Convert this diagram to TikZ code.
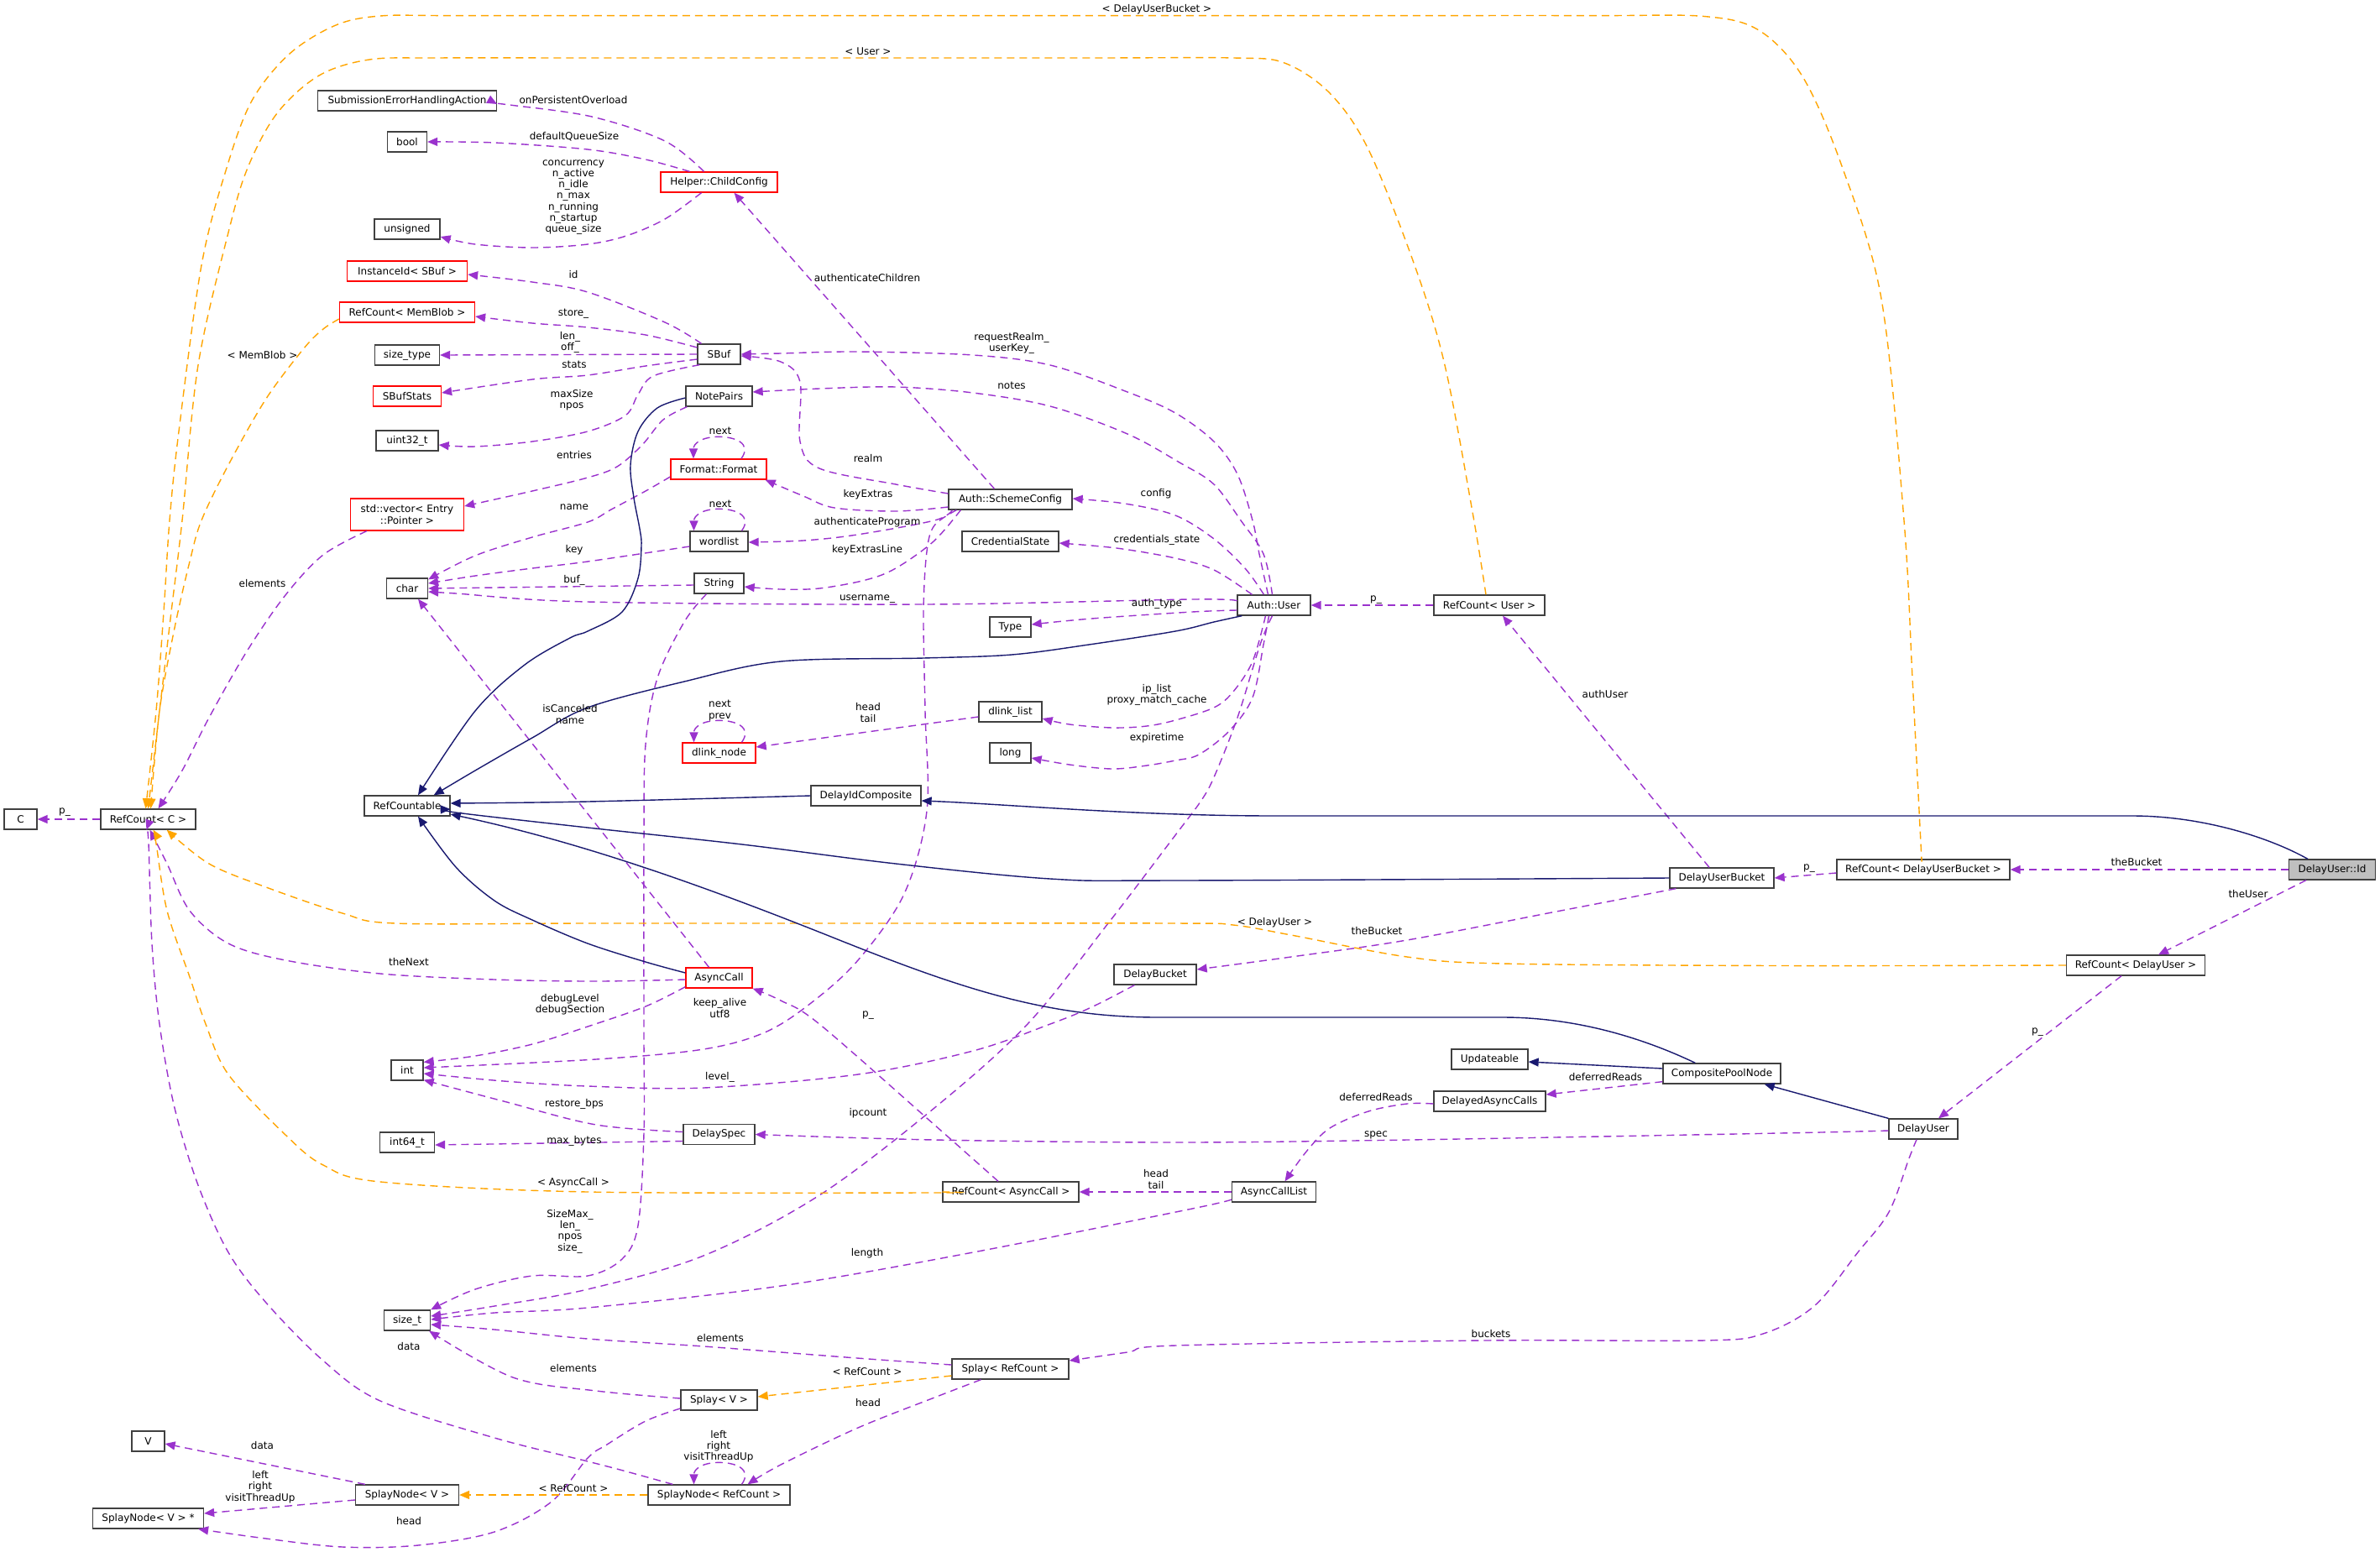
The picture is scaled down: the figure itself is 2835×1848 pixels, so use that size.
\documentclass[tikz,border=0pt]{standalone}
\usepackage{fontspec}
\setmainfont{DejaVu Sans}
\usetikzlibrary{arrows.meta,calc}
\newcommand\fsz{\fontsize{12}{13.3}\selectfont}
\definecolor{usec}{HTML}{9A32CD}
\definecolor{tmplc}{HTML}{FFA500}
\definecolor{inhc}{HTML}{191970}
\definecolor{boxc}{HTML}{404040}
\begin{document}
\begin{tikzpicture}[x=1pt,y=-1pt,
  cls/.style={draw=boxc, line width=1.3pt, fill=white, minimum height=24pt, inner sep=0pt, font=\fsz},
  trunc/.style={cls, draw=red},
  lbl/.style={font=\fsz, inner sep=0pt, align=center},
  use/.style={draw=usec, line width=1.4pt, dash pattern=on 9pt off 6pt, -{Triangle[length=12pt,width=10pt]}},
  tmpl/.style={draw=tmplc, line width=1.4pt, dash pattern=on 9pt off 6pt, -{Triangle[length=12pt,width=10pt]}},
  inh/.style={draw=inhc, line width=1.4pt, -{Triangle[length=12pt,width=10pt]}},
  sm/.style={smooth, tension=0.55}]
\fill[white] (0,0) rectangle (2835,1848);
\useasboundingbox (0,0) rectangle (2835,1848);

% ---------- nodes ----------
\node[cls, minimum width=213] (seha) at (485,120) {SubmissionErrorHandlingAction};
\node[cls, minimum width=47] (bool) at (485,169) {bool};
\node[cls, minimum width=78] (unsigned) at (485,273) {unsigned};
\node[trunc, minimum width=143] (instid) at (485,323) {InstanceId< SBuf >};
\node[trunc, minimum width=161] (rcmb) at (485,372) {RefCount< MemBlob >};
\node[cls, minimum width=77] (sizetype) at (485,423) {size\_type};
\node[trunc, minimum width=81] (sbufstats) at (485,472) {SBufStats};
\node[cls, minimum width=74] (uint) at (485,525) {uint32\_t};
\node[trunc, minimum width=135, minimum height=38, align=center] (stdvec) at (485,613) {std::vector< Entry\\::Pointer >};
\node[cls, minimum width=49] (char) at (485,701) {char};
\node[cls, minimum width=102] (rcable) at (485,960) {RefCountable};
\node[cls, minimum width=39] (C) at (24.5,976) {C};
\node[cls, minimum width=113] (rcC) at (176.5,976) {RefCount< C >};
\node[cls, minimum width=38] (int) at (485,1275) {int};
\node[cls, minimum width=65] (intsf) at (485,1361) {int64\_t};
\node[cls, minimum width=55] (sizet) at (485,1573) {size\_t};
\node[cls, minimum width=39] (V) at (176.5,1717) {V};
\node[cls, minimum width=123] (snV) at (485,1781) {SplayNode< V >};
\node[cls, minimum width=132] (snVp) at (176.5,1809) {SplayNode< V > *};
\node[trunc, minimum width=139] (childcfg) at (856.5,217) {Helper::ChildConfig};
\node[cls, minimum width=51] (sbuf) at (856.5,422) {SBuf};
\node[cls, minimum width=79] (notepairs) at (856.5,472) {NotePairs};
\node[trunc, minimum width=114] (format) at (856,559) {Format::Format};
\node[cls, minimum width=69] (wordlist) at (856.5,645) {wordlist};
\node[cls, minimum width=59] (string) at (856.5,695) {String};
\node[trunc, minimum width=87] (dlnode) at (856.5,897) {dlink\_node};
\node[trunc, minimum width=79] (asynccall) at (856.5,1165) {AsyncCall};
\node[cls, minimum width=85] (delayspec) at (856.5,1351.5) {DelaySpec};
\node[cls, minimum width=91] (splayV) at (856.5,1668) {Splay< V >};
\node[cls, minimum width=169] (snRC) at (856.5,1781) {SplayNode< RefCount >};
\node[cls, minimum width=131] (didc) at (1031.5,948) {DelayIdComposite};
\node[cls, minimum width=147] (scfg) at (1203.5,595) {Auth::SchemeConfig};
\node[cls, minimum width=115] (cred) at (1203.5,645) {CredentialState};
\node[cls, minimum width=49] (type) at (1203.5,747) {Type};
\node[cls, minimum width=75] (dllist) at (1203.5,848) {dlink\_list};
\node[cls, minimum width=49] (long) at (1203.5,897) {long};
\node[cls, minimum width=162] (rcAC) at (1204,1420) {RefCount< AsyncCall >};
\node[cls, minimum width=139] (splayRC) at (1203.5,1631) {Splay< RefCount >};
\node[cls, minimum width=98] (dbucket) at (1376,1161) {DelayBucket};
\node[cls, minimum width=87] (authuser) at (1517.5,721) {Auth::User};
\node[cls, minimum width=100] (aclist) at (1517.5,1420) {AsyncCallList};
\node[cls, minimum width=132] (rcUser) at (1774,721) {RefCount< User >};
\node[cls, minimum width=91] (updateable) at (1774.5,1262) {Updateable};
\node[cls, minimum width=133] (dac) at (1774.5,1312) {DelayedAsyncCalls};
\node[cls, minimum width=124] (dub) at (2051,1046) {DelayUserBucket};
\node[cls, minimum width=140] (cpn) at (2051,1279) {CompositePoolNode};
\node[cls, minimum width=206] (rcDUB) at (2291,1036) {RefCount< DelayUserBucket >};
\node[cls, minimum width=82] (duser) at (2291,1345) {DelayUser};
\node[cls, minimum width=165] (rcDU) at (2544,1150) {RefCount< DelayUser >};
\node[cls, minimum width=103, fill=black!25] (duid) at (2778,1036) {DelayUser::Id};

% ---------- usage edges (purple) ----------
\draw[use] plot[sm] coordinates {($(childcfg.north)+(-18,0)$) (792,168) (705,139) (607,125) ($(seha.east)+(0,4)$)};
\draw[use] plot[sm] coordinates {($(childcfg.north)+(-35,0)$) (769,190) (700,178) (589,170) (bool.east)};
\draw[use] plot[sm] coordinates {($(childcfg.south)+(-21,0)$) (792,261) (746,281) (700,291) (634,295) (566,291) ($(unsigned.east)+(0,9)$)};
\draw[use] plot[sm] coordinates {($(sbuf.north)+(-21,0)$) (792,384) (700,348) (634,336) ($(instid.east)+(0,4)$)};
\draw[use] plot[sm] coordinates {($(sbuf.west)+(0,-8)$) (769,399) (700,390) (634,385) ($(rcmb.east)+(0,5)$)};
\draw[use] (sbuf.west) -- (sizetype.east);
\draw[use] plot[sm] coordinates {($(sbuf.west)+(0,6)$) (769,436) (700,447) (634,452) ($(sbufstats.east)+(0,-4)$)};
\draw[use] plot[sm] coordinates {($(sbuf.south west)+(3,0)$) (778,448) (760,470) (745,495) (700,514) (634,526) (566,532) ($(uint.east)+(0,5)$)};
\draw[use] plot[sm] coordinates {($(notepairs.south west)+(2,0)$) (790,500) (765,530) (735,556) (700,569) (634,585) ($(stdvec.east)+(0,-10)$)};
\draw[use] plot[sm] coordinates {($(format.west)+(0,9)$) (769,585) (728,607) (700,622) (634,640) (566,662) ($(char.north east)+(0,2)$)};
\draw[use] ($(format.north)+(27,0)$) .. controls ($(format.north)+(40,-18)$) and ($(format.north)+(20,-26)$) .. ($(format.north)+(0,-26)$) .. controls ($(format.north)+(-20,-26)$) and ($(format.north)+(-30,-18)$) .. ($(format.north)+(-30,0)$);
\draw[use] plot[sm] coordinates {($(wordlist.west)+(0,6)$) (700,669) (634,677) (566,686) ($(char.east)+(0,-6)$)};
\draw[use] ($(wordlist.north)+(27,0)$) .. controls ($(wordlist.north)+(40,-18)$) and ($(wordlist.north)+(20,-26)$) .. ($(wordlist.north)+(0,-26)$) .. controls ($(wordlist.north)+(-20,-26)$) and ($(wordlist.north)+(-30,-18)$) .. ($(wordlist.north)+(-30,0)$);
\draw[use] ($(string.west)+(0,2)$) -- (char.east);
\draw[use] plot[sm] coordinates {($(authuser.west)+(0,-5)$) (1420,714) (1100,720) (700,717) (543,707) ($(char.east)+(0,4)$)};
\draw[use] ($(scfg.north)+(-19,0)$) -- ($(childcfg.south)+(18,0)$);
\draw[use] plot[sm] coordinates {($(scfg.west)+(0,-7)$) (1067,577) (976,558) (953,526) (953,455) (930,431) ($(sbuf.east)+(0,2)$)};
\draw[use] plot[sm] coordinates {($(scfg.west)+(0,9)$) (1067,609) (994,605) (957,591) ($(format.south east)+(-2,0)$)};
\draw[use] plot[sm] coordinates {($(scfg.south west)+(5,0)$) (1113,620) (1021,637) (957,644) ($(wordlist.east)+(0,1)$)};
\draw[use] plot[sm] coordinates {($(scfg.south west)+(15,0)$) (1112,645) (1067,677) (1031,691) (976,701) (930,702) ($(string.east)+(0,4)$)};
\draw[use] plot[sm] coordinates {($(scfg.south west)+(10,0)$) (1113,626) (1104,657) (1100,729) (1102,847) (1104,966) (1077,1065) (1022,1144) (966,1195) (911,1230) (838,1250) (710,1262) ($(int.east)+(0,-3)$)};
\draw[use] plot[sm] coordinates {($(authuser.north)+(-12,0)$) (1483,677) (1446,642) (1400,614) (1340,600) ($(scfg.east)+(0,-1)$)};
\draw[use] plot[sm] coordinates {($(authuser.north)+(-7,0)$) (1500,660) (1492,620) (1474,565) (1446,526) (1400,492) (1343,467) (1251,435) (1159,423) (1022,419) (930,421) (sbuf.east)};
\draw[use] plot[sm] coordinates {($(authuser.north)+(-2,0)$) (1505,660) (1478,620) (1446,577) (1405,551) (1343,517) (1251,484) (1159,468) (1067,461) (976,463) ($(notepairs.east)+(0,-5)$)};
\draw[use] plot[sm] coordinates {($(authuser.north)+(-26,0)$) (1446,679) (1400,665) (1330,653) ($(cred.east)+(0,2)$)};
\draw[use] plot[sm] coordinates {($(authuser.west)+(0,6)$) (1420,729) (1300,737) ($(type.east)+(0,-3)$)};
\draw[use] plot[sm] coordinates {($(authuser.south)+(-10,0)$) (1492,788) (1469,824) (1446,843) (1400,858) (1366,865) (1325,867) (1274,863) ($(dllist.east)+(0,8)$)};
\draw[use] plot[sm] coordinates {($(authuser.south)+(-6,0)$) (1505,768) (1492,831) (1464,871) (1428,899) (1400,906) (1366,912) (1325,916) (1274,911) ($(long.east)+(0,6)$)};
\draw[use] plot[sm] coordinates {($(authuser.south)+(-2,0)$) (1501,768) (1474,855) (1446,926) (1430,955) (1400,995) (1320,1100) (1224,1220) (1113,1320) (976,1424) (838,1496) (700,1536) (589,1556) ($(sizet.east)+(0,-5)$)};
\draw[use] ($(dllist.west)+(0,6)$) -- ($(dlnode.east)+(0,-7)$);
\draw[use] ($(dlnode.north)+(27,0)$) .. controls ($(dlnode.north)+(40,-18)$) and ($(dlnode.north)+(20,-26)$) .. ($(dlnode.north)+(0,-26)$) .. controls ($(dlnode.north)+(-20,-26)$) and ($(dlnode.north)+(-30,-18)$) .. ($(dlnode.north)+(-30,0)$);
\draw[use] ($(asynccall.north)+(-12,0)$) -- ($(char.south)+(13,0)$);
\draw[use] plot[sm] coordinates {($(asynccall.west)+(0,2)$) (710,1169) (589,1167) (453,1160) (340,1144) (272,1124) (226,1085) (199,1029) ($(rcC.south)+(2,0)$)};
\draw[use] plot[sm] coordinates {($(asynccall.south west)+(0,-2)$) (769,1199) (700,1223) (634,1244) (566,1258) ($(int.north east)+(0,3)$)};
\draw[use] plot[sm] coordinates {($(dbucket.south west)+(25,0)$) (1300,1200) (1251,1220) (1159,1252) (1022,1280) (838,1296) (700,1294) (600,1288) ($(int.east)+(0,4)$)};
\draw[use] plot[sm] coordinates {($(rcAC.north)+(-15,0)$) (1113,1340) (976,1220) (930,1192) (asynccall.south east)};
\draw[use] plot[sm] coordinates {($(delayspec.west)+(0,-3)$) (710,1340) (600,1312) ($(int.south east)+(0,-1)$)};
\draw[use] ($(delayspec.west)+(0,8)$) -- ($(intsf.east)+(0,3)$);
\draw[use] plot[sm] coordinates {($(dub.south west)+(8,0)$) (1859,1085) (1676,1120) (1538,1140) ($(dbucket.east)+(0,-6)$)};
\draw[use] ($(dub.north)+(-15,0)$) -- ($(rcUser.south)+(16,0)$);
\draw[use] (rcUser.west) -- (authuser.east);
\draw[use] ($(rcDUB.west)+(0,4)$) -- (dub.east);
\draw[use] (duid.west) -- (rcDUB.east);
\draw[use] ($(duid.south)+(-31,0)$) -- ($(rcDU.north)+(27,0)$);
\draw[use] ($(rcDU.south)+(-17,0)$) -- ($(duser.north)+(18,0)$);
\draw[use] ($(cpn.south west)+(0,-3)$) -- ($(dac.east)+(0,-8)$);
\draw[use] plot[sm] coordinates {($(dac.west)+(0,3)$) (1676,1315) (1630,1324) (1584,1344) (1556,1372) ($(aclist.north)+(13,0)$)};
\draw[use] plot[sm] coordinates {($(duser.west)+(0,2)$) (2120,1350) (1676,1358) (1400,1361) (1113,1358) (delayspec.east)};
\draw[use] (aclist.west) -- (rcAC.east);
\draw[use] plot[sm] coordinates {($(aclist.west)+(0,9)$) (1420,1440) (1159,1492) (930,1532) (700,1558) (589,1564) ($(sizet.east)+(0,-1)$)};
\draw[use] plot[sm] coordinates {($(duser.south)+(-8,0)$) (2274,1380) (2250,1444) (2213,1492) (2161,1556) (2100,1589) (2030,1597) (1767,1597) (1400,1603) (1343,1611) ($(splayRC.east)+(0,-10)$)};
\draw[use] plot[sm] coordinates {($(string.south)+(-15,0)$) (815,741) (783,808) (769,887) (767,1005) (767,1230) (767,1350) (760,1460) (741,1500) (700,1520) (634,1520) (566,1536) (sizet.north east)};
\draw[use] plot[sm] coordinates {($(splayRC.west)+(0,-5)$) (1021,1618) (838,1604) (700,1595) (589,1584) ($(sizet.east)+(0,5)$)};
\draw[use] plot[sm] coordinates {($(splayV.west)+(0,-2)$) (710,1657) (611,1641) ($(sizet.south east)+(-2,0)$)};
\draw[use] plot[sm] coordinates {($(splayRC.south)+(-35,0)$) (1113,1665) (1022,1701) (930,1745) ($(snRC.north)+(34,0)$)};
\draw[use] ($(snRC.north)+(27,0)$) .. controls ($(snRC.north)+(40,-18)$) and ($(snRC.north)+(20,-26)$) .. ($(snRC.north)+(0,-26)$) .. controls ($(snRC.north)+(-20,-26)$) and ($(snRC.north)+(-30,-18)$) .. ($(snRC.north)+(-30,0)$);
\draw[use] plot[sm] coordinates {($(snRC.north west)+(30,0)$) (746,1753) (700,1741) (589,1713) (453,1669) (385,1621) (317,1552) (272,1492) (236,1412) (208,1320) (190,1220) (181,1124) (177,1005) ($(rcC.south)+(-2,0)$)};
\draw[use] ($(snV.north west)+(12,0)$) -- ($(V.east)+(0,3)$);
\draw[use] ($(snV.west)+(0,6)$) -- ($(snVp.east)+(0,-6)$);
\draw[use] plot[sm] coordinates {($(splayV.west)+(0,10)$) (769,1693) (723,1721) (700,1737) (657,1789) (589,1825) (498,1841) (408,1843) (317,1833) ($(snVp.south east)+(-7,0)$)};
\draw[use] (rcC.west) -- (C.east);
\draw[use] plot[sm] coordinates {($(stdvec.south west)+(20,0)$) (385,661) (340,709) (294,776) (249,855) (217,918) ($(rcC.north)+(12,0)$)};

% ---------- template edges (orange) ----------
\draw[tmpl] plot[sm] coordinates {($(rcmb.west)+(0,8)$) (385,392) (362,415) (317,475) (272,554) (240,620) (226,669) (208,748) (190,847) ($(rcC.north)+(3,0)$)};
\draw[tmpl] plot[sm] coordinates {($(rcUser.north)+(-4,0)$) (1754,610) (1721,435) (1685,316) (1630,178) (1584,111) (1530,75) (1470,69) (1300,69) (1000,69) (700,69) (520,69) (440,71) (380,90) (330,135) (295,200) (272,277) (236,435) (217,620) (204,729) (190,847) (rcC.north)};
\draw[tmpl] plot[sm] coordinates {($(rcDUB.north)+(-2,0)$) (2288,1005) (2278,808) (2268,620) (2241,356) (2194,198) (2147,91) (2095,36) (2030,19.5) (1900,18.6) (1600,18.6) (1200,18.6) (800,18.6) (540,18.6) (453,19) (400,30) (345,64) (300,120) (270,200) (240,316) (213,514) (202,620) (195,729) (186,847) ($(rcC.north)+(-3,0)$)};
\draw[tmpl] plot[sm] coordinates {(rcDU.west) (2120,1150.5) (1790,1148) (1676,1140) (1538,1114) (1469,1102) (1400,1100) (1000,1100) (700,1100) (471,1100) (408,1088) (317,1057) (249,1029) ($(rcC.south east)+(-35,0)$)};
\draw[tmpl] plot[sm] coordinates {(rcAC.west) (1113,1421) (700,1420) (453,1408) (385,1388) (340,1352) (272,1280) (245,1220) (226,1164) (199,1085) (186,1005) ($(rcC.south)+(6,0)$)};
\draw[tmpl] ($(splayRC.west)+(0,8)$) -- ($(splayV.east)+(0,-4)$);
\draw[tmpl] (snRC.west) -- (snV.east);

% ---------- inheritance edges (navy) ----------
\draw[inh] plot[sm] coordinates {($(notepairs.west)+(0,2)$) (783,486) (760,514) (751,554) (755,593) (762,630) (764,650) (760,689) (741,729) (700,752) (679,760) (625,792) (566,847) ($(rcable.north)+(13,0)$)};
\draw[inh] plot[sm] coordinates {($(authuser.south west)+(6,0)$) (1446,741) (1400,752) (1297,768) (1205,780) (1100,784) (930,788) (815,812) (700,843) (634,879) (566,918) ($(rcable.north east)+(-20,0)$)};
\draw[inh] plot[sm] coordinates {(didc.west) (700,955) ($(rcable.east)+(0,-3)$)};
\draw[inh] plot[sm] coordinates {(dub.west) (1400,1049) (1251,1047) (1067,1029) (884,1006) (700,986) (543,968) ($(rcable.east)+(0,4)$)};
\draw[inh] ($(cpn.north west)+(39,0)$) .. controls (1960,1238) and (1880,1212) .. (1790,1212) -- (1380,1212) .. controls (1250,1212) and (1150,1180) .. (1000,1120) .. controls (850,1060) and (700,1005) .. ($(rcable.east)+(0,10)$);
\draw[inh] plot[sm] coordinates {($(asynccall.west)+(0,-6)$) (769,1146) (700,1124) (634,1096) (589,1073) (543,1033) ($(rcable.south)+(13,0)$)};
\draw[inh] ($(duid.north)+(-29,0)$) .. controls (2700,996) and (2620,972) .. (2540,972) -- (1520,972) .. controls (1350,972) and (1200,958) .. ($(didc.east)+(0,6)$);
\draw[inh] ($(cpn.west)+(0,-6)$) -- ($(updateable.east)+(0,3)$);
\draw[inh] (duser.north west) -- ($(cpn.south east)+(-20,0)$);

% ---------- labels ----------
\node[lbl] (t1) at (1378,11) {< DelayUserBucket >};
\node[lbl] (t2) at (1034,61) {< User >};
\node[lbl] (t3) at (683,119) {onPersistentOverload};
\node[lbl] (t4) at (684,162.5) {defaultQueueSize};
\node[lbl] (t5) at (683,235) {concurrency\\n\_active\\n\_idle\\n\_max\\n\_running\\n\_startup\\queue\_size};
\node[lbl] (t6) at (1033,331) {authenticateChildren};
\node[lbl] (t7) at (683,327) {id};
\node[lbl] (t8) at (683,374) {store\_};
\node[lbl] (t9) at (679,407.5) {len\_\\off\_};
\node[lbl] (t10) at (684,434) {stats};
\node[lbl] (t11) at (681,476.5) {maxSize\\npos};
\node[lbl] (t12) at (312.5,423.5) {< MemBlob >};
\node[lbl] (t13) at (1205,409) {requestRealm\_\\userKey\_};
\node[lbl] (t14) at (1205,459.5) {notes};
\node[lbl] (t15) at (858,513.6) {next};
\node[lbl] (t16) at (684,542.5) {entries};
\node[lbl] (t17) at (1034,545.6) {realm};
\node[lbl] (t18) at (1034,589.5) {keyExtras};
\node[lbl] (t19) at (1377,588) {config};
\node[lbl] (t20) at (858,600.6) {next};
\node[lbl] (t21) at (684,604) {name};
\node[lbl] (t22) at (1033,622) {authenticateProgram};
\node[lbl] (t23) at (1378,643) {credentials\_state};
\node[lbl] (t24) at (684,654.7) {key};
\node[lbl] (t25) at (1033,655.5) {keyExtrasLine};
\node[lbl] (t26) at (684,691) {buf\_};
\node[lbl] (t27) at (312.5,695) {elements};
\node[lbl] (t28) at (1033,713.6) {username\_};
\node[lbl] (t29) at (1639,715) {p\_};
\node[lbl] (t30) at (1378,719.5) {auth\_type};
\node[lbl] (t31) at (1378,828) {ip\_list\\proxy\_match\_cache};
\node[lbl] (t32) at (1912,827.5) {authUser};
\node[lbl] (t33) at (857.5,846.5) {next\\prev};
\node[lbl] (t34) at (1034,849) {head\\tail};
\node[lbl] (t35) at (679,851) {isCanceled\\name};
\node[lbl] (t36) at (1378,879) {expiretime};
\node[lbl] (t37) at (77,968) {p\_};
\node[lbl] (t38) at (2545,1027) {theBucket};
\node[lbl] (t39) at (2155,1035) {p\_};
\node[lbl] (t40) at (2678,1065.5) {theUser};
\node[lbl] (t41) at (1518.5,1099.5) {< DelayUser >};
\node[lbl] (t42) at (1640,1109) {theBucket};
\node[lbl] (t43) at (487,1146) {theNext};
\node[lbl] (t44) at (679,1197) {debugLevel\\debugSection};
\node[lbl] (t45) at (857.5,1201) {keep\_alive\\utf8};
\node[lbl] (t46) at (1034,1210) {p\_};
\node[lbl] (t47) at (2427,1229.5) {p\_};
\node[lbl] (t48) at (857.5,1283) {level\_};
\node[lbl] (t49) at (1912.5,1283) {deferredReads};
\node[lbl] (t50) at (1639,1307) {deferredReads};
\node[lbl] (t51) at (684,1315) {restore\_bps};
\node[lbl] (t52) at (1034,1326) {ipcount};
\node[lbl] (t53) at (1639,1352) {spec};
\node[lbl] (t54) at (684,1359) {max\_bytes};
\node[lbl] (t55) at (1377,1405) {head\\tail};
\node[lbl] (t56) at (683,1409) {< AsyncCall >};
\node[lbl] (t57) at (679,1467) {SizeMax\_\\len\_\\npos\\size\_};
\node[lbl] (t58) at (1033,1493.5) {length};
\node[lbl] (t59) at (1776,1589) {buckets};
\node[lbl] (t60) at (858,1594) {elements};
\node[lbl] (t61) at (487,1604) {data};
\node[lbl] (t62) at (683,1630.5) {elements};
\node[lbl] (t63) at (1033,1634.5) {< RefCount >};
\node[lbl] (t64) at (1034,1670.6) {head};
\node[lbl] (t65) at (856,1723) {left\\right\\visitThreadUp};
\node[lbl] (t66) at (312.5,1722) {data};
\node[lbl] (t67) at (310,1771.5) {left\\right\\visitThreadUp};
\node[lbl] (t68) at (683,1773.5) {< RefCount >};
\node[lbl] (t69) at (487,1811.5) {head};
\end{tikzpicture}
\end{document}
